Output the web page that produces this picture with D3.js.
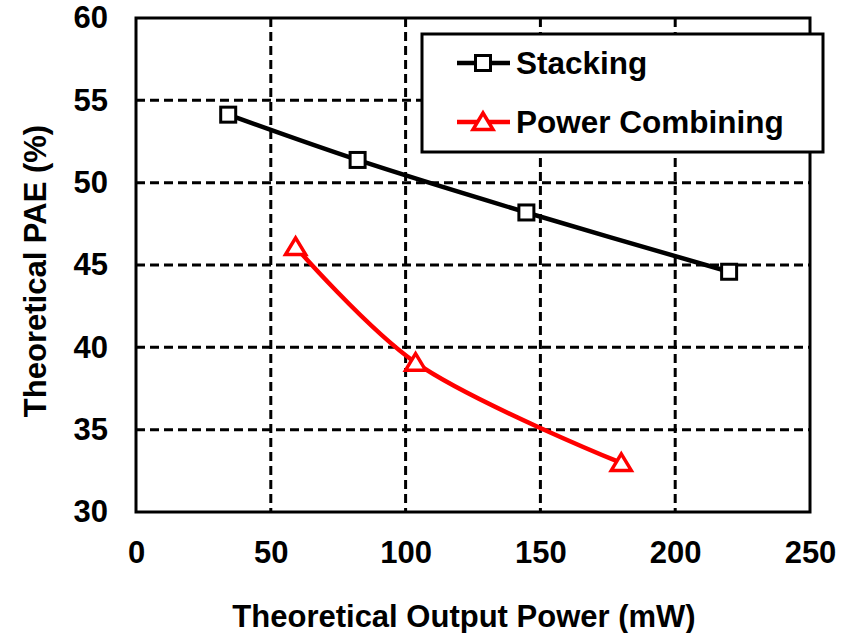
<!DOCTYPE html>
<html>
<head>
<meta charset="utf-8">
<script src="https://cdn.jsdelivr.net/npm/d3@7"></script>
<style>
  body { margin: 0; background: #fff; }
  text { font-family: "Liberation Sans", Arial, sans-serif; font-weight: bold; fill: #000; }
</style>
</head>
<body>
<svg id="chart" width="842" height="633"></svg>
<script>
// ---- data ----
const stackPower = [34.2, 82.2, 144.8, 220.0];
const stackPAE   = [54.13, 51.38, 48.19, 44.59];
const combPower  = [59.2, 103.7, 180.0];
const combPAE    = [46.1, 39.07, 32.98];
const xTicks = [0, 50, 100, 150, 200, 250];
const yTicks = [30, 35, 40, 45, 50, 55, 60];
const seriesNames = ["Stacking", "Power Combining"];

const svg = d3.select("#chart");
const plotL = 136, plotR = 810, plotT = 18, plotB = 512;

const x = d3.scaleLinear().domain([0, 250]).range([plotL, plotR]);
const y = d3.scaleLinear().domain([30, 60]).range([plotB, plotT]);

// gridlines
svg.append("g")
  .selectAll("line")
  .data(xTicks.slice(1, -1))
  .enter().append("line")
  .attr("x1", d => x(d)).attr("x2", d => x(d))
  .attr("y1", plotT).attr("y2", plotB)
  .attr("stroke", "#000").attr("stroke-width", 3)
  .attr("stroke-dasharray", "9,5");

svg.append("g")
  .selectAll("line")
  .data(yTicks.slice(1, -1))
  .enter().append("line")
  .attr("x1", plotL).attr("x2", plotR)
  .attr("y1", d => y(d)).attr("y2", d => y(d))
  .attr("stroke", "#000").attr("stroke-width", 3)
  .attr("stroke-dasharray", "9,5");

// plot border
svg.append("rect")
  .attr("x", plotL).attr("y", plotT)
  .attr("width", plotR - plotL).attr("height", plotB - plotT)
  .attr("fill", "none").attr("stroke", "#000").attr("stroke-width", 3);

// axes labels
const xAxis = d3.axisBottom(x).tickValues(xTicks).tickSize(0).tickPadding(29);
svg.append("g").attr("transform", `translate(0,${plotB})`).call(xAxis)
  .call(g => g.select(".domain").remove())
  .selectAll("text").style("font-size", "31px").attr("fill", "#000");

const yAxis = d3.axisLeft(y).tickValues(yTicks).tickSize(0).tickPadding(28);
svg.append("g").attr("transform", `translate(${plotL},0)`).call(yAxis)
  .call(g => g.select(".domain").remove())
  .selectAll("text").style("font-size", "31px").attr("fill", "#000");

svg.append("text")
  .attr("x", (plotL + plotR) / 2 - 9).attr("y", 627)
  .attr("text-anchor", "middle").style("font-size", "31px")
  .text("Theoretical Output Power (mW)");

svg.append("text")
  .attr("transform", `translate(46,${(plotT + plotB) / 2 + 6}) rotate(-90)`)
  .attr("text-anchor", "middle").style("font-size", "31px")
  .text("Theoretical PAE (%)");

// series
const stackData = stackPower.map((p, i) => [p, stackPAE[i]]);
const combData = combPower.map((p, i) => [p, combPAE[i]]);

const line = d3.line()
  .x(d => x(d[0])).y(d => y(d[1]))
  .curve(d3.curveCatmullRom.alpha(0.5));

svg.append("path").datum(stackData)
  .attr("d", line).attr("fill", "none")
  .attr("stroke", "#000").attr("stroke-width", 4.5);

svg.append("path").datum(combData)
  .attr("d", line).attr("fill", "none")
  .attr("stroke", "#ff0000").attr("stroke-width", 4.5);

const triPath = "M0,-9L10,7.5L-10,7.5Z";

svg.append("g").selectAll("rect")
  .data(stackData)
  .enter().append("rect")
  .attr("x", d => x(d[0]) - 7.5).attr("y", d => y(d[1]) - 7.5)
  .attr("width", 15).attr("height", 15)
  .attr("fill", "#fff").attr("stroke", "#000").attr("stroke-width", 3);

svg.append("g").selectAll("path")
  .data(combData)
  .enter().append("path")
  .attr("d", triPath)
  .attr("transform", d => `translate(${x(d[0])},${y(d[1])})`)
  .attr("fill", "#fff").attr("stroke", "#ff0000").attr("stroke-width", 3.5);

// legend
const legend = svg.append("g");
legend.append("rect")
  .attr("x", 422).attr("y", 34).attr("width", 401).attr("height", 118)
  .attr("fill", "#fff").attr("stroke", "#000").attr("stroke-width", 3);

const colors = ["#000", "#ff0000"];
const rows = legend.selectAll(".legend")
  .data(seriesNames)
  .enter().append("g")
  .attr("class", "legend")
  .attr("transform", (d, i) => `translate(0,${63 + 59 * i})`);

rows.append("line")
  .attr("x1", 457).attr("x2", 510).attr("y1", 0).attr("y2", 0)
  .attr("stroke", (d, i) => colors[i]).attr("stroke-width", 4.5);

rows.filter((d, i) => i === 0).append("rect")
  .attr("x", 483 - 7.5).attr("y", -7.5).attr("width", 15).attr("height", 15)
  .attr("fill", "#fff").attr("stroke", "#000").attr("stroke-width", 3);

rows.filter((d, i) => i === 1).append("path")
  .attr("d", triPath).attr("transform", "translate(483,0)")
  .attr("fill", "#fff").attr("stroke", "#ff0000").attr("stroke-width", 3.5);

rows.append("text")
  .attr("x", 516).attr("y", 11)
  .style("font-size", "31.5px")
  .text(d => d);
</script>
</body>
</html>
